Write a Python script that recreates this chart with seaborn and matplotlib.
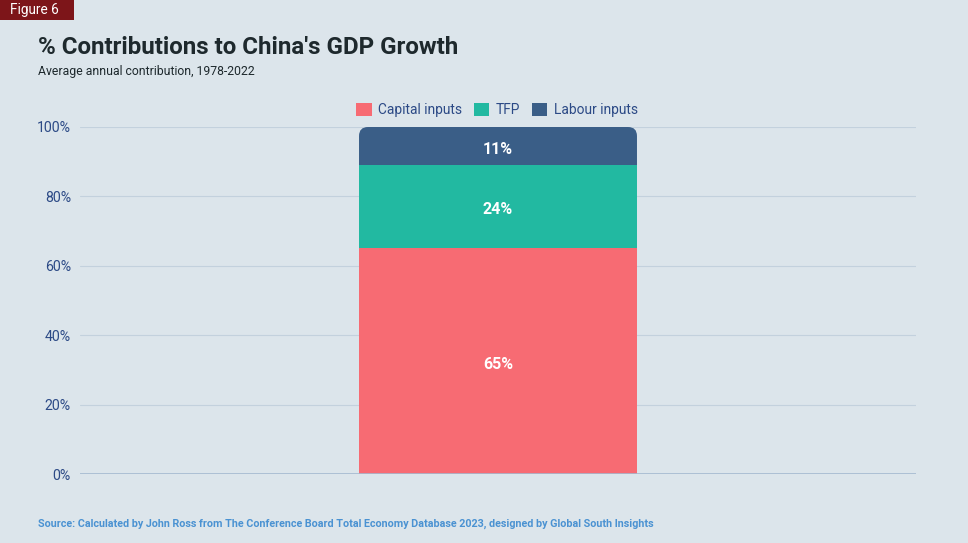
import matplotlib
matplotlib.use("Agg")
import matplotlib.pyplot as plt
import seaborn as sns
import pandas as pd
from matplotlib.patches import FancyBboxPatch, Rectangle
from matplotlib.ticker import FuncFormatter
from matplotlib.transforms import offset_copy

categories = ["Capital inputs", "TFP", "Labour inputs"]
values = [65, 24, 11]
colors = ["#F76B73", "#22B9A1", "#3A5E87"]
group = ["China"]
yticks = [0, 20, 40, 60, 80, 100]

sns.set_theme(style="white")
plt.rcParams["font.family"] = ["Roboto", "DejaVu Sans"]

BG = "#DCE5EB"
fig = plt.figure(figsize=(9.68, 5.43), dpi=100, facecolor=BG)
ax = fig.add_axes([80 / 968, 1 - 474 / 543, 836 / 968, 347 / 543])
ax.set_facecolor(BG)

# cumulative totals, draw from top segment down
cum = []
s = 0
for v in values:
    s += v
    cum.append(s)

bars = {}
for cat, c, col in reversed(list(zip(categories, cum, colors))):
    df = pd.DataFrame({"group": group, "value": [c]})
    n_before = len(ax.patches)
    sns.barplot(data=df, x="group", y="value", color=col, saturation=1,
                width=0.8, ax=ax, label=cat, linewidth=0, zorder=3)
    bars[cat] = ax.patches[n_before:]

ax.set_xlim(-1.203, 1.203)
ax.set_ylim(0, 100)

# rounded top corners for the top segment
xr = 2.406 / 836
yr = 100 / 347
top_patch = bars[categories[-1]][0]
x0 = top_patch.get_x()
w = top_patch.get_width()
clip = FancyBboxPatch((x0, -50), w, 150, boxstyle=f"round,pad=0,rounding_size={9 * xr}",
                      mutation_aspect=yr / xr, transform=ax.transData, facecolor="none",
                      edgecolor="none")
top_patch.set_clip_path(clip)

# segment labels
lab_tr = offset_copy(ax.transData, fig=fig, x=0, y=-2.2, units="points")
bottom = 0
for v in values:
    ax.text(0, bottom + v / 2, f"{v}%", ha="center", va="center", color="white",
            fontsize=11.5, fontweight="bold", zorder=5, transform=lab_tr)
    bottom += v

ax.set_yticks(yticks)
ax.yaxis.set_major_formatter(FuncFormatter(lambda v, p: f"{int(v)}%"))
ax.tick_params(axis="y", length=0, pad=6.5, labelsize=10.2, labelcolor="#2C4A86")
ax.set_xticks([])
ax.set_xlabel("")
ax.set_ylabel("")
for sp in ax.spines.values():
    sp.set_visible(False)
ax.grid(axis="y", color="#C3D1DD", linewidth=0.8, zorder=0)
ax.axhline(0, color="#A4BAD0", linewidth=1.2, zorder=4)

# legend
h, l = ax.get_legend_handles_labels()
order = [l.index(c) for c in categories]
h = [h[i] for i in order]
l = [l[i] for i in order]
leg = fig.legend(h, l, loc="center", bbox_to_anchor=(497 / 968, 1 - 110 / 543), ncol=3,
                 frameon=False, fontsize=9.9, handlelength=1.1, handleheight=1.1,
                 handletextpad=0.45, columnspacing=0.9, labelcolor="#2C4A86")
if ax.get_legend():
    ax.get_legend().remove()

# title
fig.text(38 / 968, 1 - 48 / 543, "% Contributions to China's GDP Growth", fontsize=17.4,
         fontweight="bold", color="#1E292D", va="center", ha="left")
fig.text(38 / 968, 1 - 71 / 543, "Average annual contribution, 1978-2022", fontsize=8.8,
         color="#1E292D", va="center", ha="left")
fig.text(38 / 968, 1 - 524 / 543,
         "Source: Calculated by John Ross from The Conference Board Total Economy Database 2023, designed by Global South Insights",
         fontsize=7.75, fontweight="bold", color="#4A92D2", va="center", ha="left")

# Figure tag
fig.patches.append(Rectangle((0, 1 - 20 / 543), 74 / 968, 20 / 543, transform=fig.transFigure,
                             facecolor="#7D1519", edgecolor="none"))
fig.text(10 / 968, 1 - 10 / 543, "Figure 6", fontsize=9.8, color="white", va="center", ha="left")

fig.savefig("out.png", dpi=100, facecolor=BG)
